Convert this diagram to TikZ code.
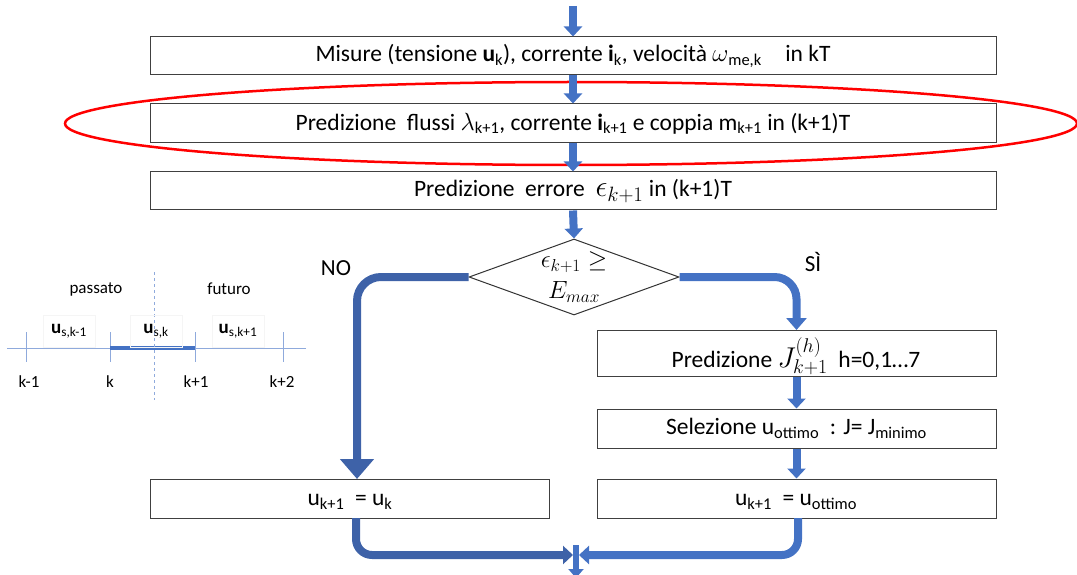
\documentclass[tikz,border=0pt]{standalone}
\usepackage{graphicx}
\usepackage{fontspec}
\setmainfont{Carlito}
\usetikzlibrary{arrows.meta,shapes.geometric}
\definecolor{arrblue}{HTML}{4472C4}
\definecolor{arrdark}{HTML}{3E62A8}
\definecolor{tlblue}{HTML}{8FAADC}
\definecolor{ellred}{HTML}{FF0000}
\newcommand{\sbs}[1]{\textsubscript{#1}}
\tikzset{
  box/.style={draw=black!75, line width=1pt, fill=white, inner sep=0pt,
    font=\fontsize{23.5}{27}\selectfont},
  arr/.style={draw=arrblue, line width=8pt, -{Triangle[width=18pt,length=10pt]}},
  arrd/.style={draw=arrdark, line width=8pt, -{Triangle[width=18pt,length=10pt]}},
  bigarr/.style={draw=arrdark, line width=8pt, -{Triangle[width=33pt,length=20pt]}},
  lbl/.style={font=\fontsize{23}{26}\selectfont, inner sep=0pt},
  tl/.style={font=\fontsize{17}{20}\selectfont, inner sep=0pt},
  ubox/.style={draw=black!4, line width=0.6pt, minimum width=52pt, minimum height=32pt,
    inner sep=0pt, font=\fontsize{19}{22}\selectfont},
  mtx/.style={font=\fontsize{24}{26}\selectfont, inner sep=0pt}
}
\begin{document}
\begin{tikzpicture}[x=1pt,y=-1pt]
\useasboundingbox (0,0) rectangle (1077,575);
% main boxes
\node[box, minimum width=846pt, minimum height=38pt] (m) at (573,56)
  {Misure (tensione \textbf{u}\sbs{k}), corrente \textbf{i}\sbs{k}, velocità $\omega$\sbs{me,k}\quad in kT};
\node[box, minimum width=846pt, minimum height=39pt] (p) at (573,123.5)
  {Predizione\ \ flussi $\lambda$\sbs{k+1}, corrente \textbf{i}\sbs{k+1} e coppia m\sbs{k+1} in (k+1)T};
\node[box, minimum width=846pt, minimum height=38pt] (e) at (573,191)
  {Predizione\ \ errore\ \ \scalebox{1.2}{$\epsilon_{k+1}$} in (k+1)T};
\node[diamond, draw=black!80, line width=1pt, fill=white, minimum width=210pt,
  minimum height=76pt, inner sep=0pt] (d) at (574,277) {};
\node[mtx] (dt1) at (574,262) {$\epsilon_{k+1}\geq$};
\node[mtx] (dt2) at (574,292) {$E_{max}$};
\node[box, minimum width=399pt, minimum height=46pt] (j) at (796.5,353.5) {};
\node[font=\fontsize{23.5}{27}\selectfont, inner sep=0pt] (jt) at (796,356)
  {Predizione \scalebox{1.15}{$J^{(h)}_{k+1}$}\ \ h=0,1…7};
\node[box, minimum width=399pt, minimum height=39pt] (s) at (796.5,428.5)
  {Selezione u\sbs{ottimo}\ \ : J= J\sbs{minimo}};
\node[box, minimum width=399pt, minimum height=39pt] (l) at (349.5,498.5) {};
\node[font=\fontsize{23.5}{27}\selectfont, inner sep=0pt] (lt) at (350,502) {u\sbs{k+1}\ \ = u\sbs{k}};
\node[box, minimum width=399pt, minimum height=39pt] (r) at (796.5,498.5) {};
\node[font=\fontsize{23.5}{27}\selectfont, inner sep=0pt] (rt) at (796,502) {u\sbs{k+1}\ \ = u\sbs{ottimo}};
% red ellipse
\draw[ellred, line width=2.5pt] (571,123.5) ellipse [x radius=506, y radius=41.5];
% connectors
\coordinate (top) at (573,6);
\draw[arr] (top) -- (m.north);
\draw[arr] (m.south) -- (p.north);
\draw[arr] (p.south) -- (e.north);
\draw[arr] (e.south) -- (d.north);
\coordinate (noend) at (357,479);
\draw[bigarr, rounded corners=24pt] (d.west) -| (noend);
\draw[arr, -{Triangle[width=20pt,length=12pt]}, rounded corners=22pt] (d.east) -| (j.north);
\draw[arr] (j.south) -- (s.north);
\draw[arr] (s.south) -- (r.north);
\coordinate (ls) at (356,518);
\coordinate (rs) at (798,518);
\coordinate (mL) at (573,555);
\coordinate (mR) at (579,555);
\draw[arrd, rounded corners=16pt] (ls) |- (mL);
\draw[arr, rounded corners=16pt] (rs) |- (mR);
\coordinate (dn1) at (576,545);
\coordinate (dn2) at (576,578);
\draw[arr, line width=6pt, -{Triangle[width=15pt,length=9pt]}] (dn1) -- (dn2);
% labels
\node[lbl] (no) at (336,268) {NO};
\node[lbl] (si) at (813,262) {SÌ};
% inset timeline
\draw[tlblue, line width=0.8pt] (7,348) -- (306,348);
\foreach \x in {26,110,195,283} \draw[tlblue, line width=0.8pt] (\x,332) -- (\x,362);
\draw[arrblue, line width=4pt] (110,348) -- (195,348);
\draw[tlblue, line width=0.8pt, dashed] (154,272) -- (154,400);
\node[ubox] (u1) at (69,331) {\textbf{u}\sbs{s,k-1}};
\node[ubox] (u2) at (156,331) {\textbf{u}\sbs{s,k}};
\node[ubox] (u3) at (238,331) {\textbf{u}\sbs{s,k+1}};
\node[tl] (pa) at (96,289) {passato};
\node[tl] (fu) at (229,289) {futuro};
\node[tl] (k1) at (29,382) {k-1};
\node[tl] (k2) at (110,382) {k};
\node[tl] (k3) at (196,382) {k+1};
\node[tl] (k4) at (282,382) {k+2};
\end{tikzpicture}
\end{document}
